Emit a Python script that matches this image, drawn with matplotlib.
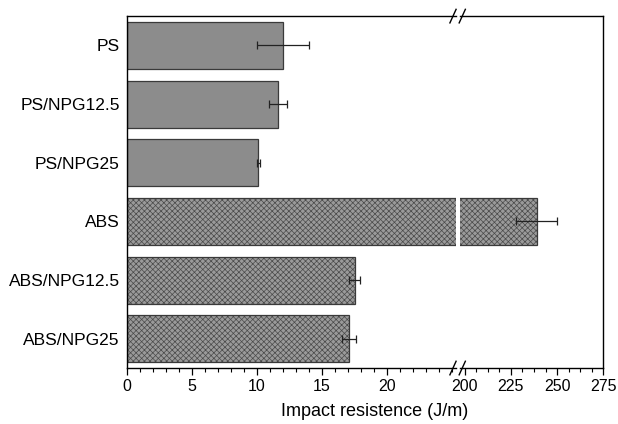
import numpy as np
import matplotlib
matplotlib.use('Agg')
import matplotlib.pyplot as plt
from matplotlib.ticker import MultipleLocator, AutoMinorLocator

plt.rcParams['font.family'] = ['Liberation Sans', 'DejaVu Sans']
plt.rcParams['hatch.linewidth'] = 0.5

# data
samples = ['PS', 'PS/NPG12.5', 'PS/NPG25', 'ABS', 'ABS/NPG12.5', 'ABS/NPG25']
impact = [12.0, 11.6, 10.1, 239.0, 17.5, 17.05]
impact_err = [2.0, 0.7, 0.12, 11.0, 0.4, 0.55]
hatched = [False, False, False, True, True, True]

ypos = np.arange(len(samples))

fig = plt.figure(figsize=(6.18, 4.24), dpi=100)
ax1 = fig.add_axes([0.205, 0.132, 0.533, 0.830])
ax2 = fig.add_axes([0.744, 0.132, 0.232, 0.830])

for ax in (ax1, ax2):
    for i in range(len(samples)):
        if hatched[i]:
            # hatch drawn in its own colour, outline on top
            ax.barh(ypos[i], impact[i], height=0.8, color='#9a9a9a',
                    edgecolor='#4a4a4a', linewidth=0, hatch='xxxxxx')
            ax.barh(ypos[i], impact[i], height=0.8, fill=False,
                    edgecolor='#3a3a3a', linewidth=0.9)
        else:
            ax.barh(ypos[i], impact[i], height=0.8, color='#8c8c8c',
                    edgecolor='#3a3a3a', linewidth=0.9)
        ax.errorbar(impact[i], ypos[i], xerr=impact_err[i], fmt='none',
                    ecolor='#222222', elinewidth=0.9, capsize=3, capthick=0.9)
    ax.set_ylim(len(samples) - 0.5, -0.5)
    ax.tick_params(axis='x', direction='out', length=5, width=0.9, labelsize=11.5, pad=3)
    ax.tick_params(axis='x', which='minor', direction='out', length=3, width=0.8)
    for s in ax.spines.values():
        s.set_linewidth(1.0)

ax1.set_xlim(0, 25.3)
ax1.xaxis.set_minor_locator(MultipleLocator(1))
ax1.set_xticks([0, 5, 10, 15, 20])
ax1.set_yticks(ypos)
ax1.set_yticklabels(samples, fontsize=12.5)
ax1.tick_params(axis='y', length=0, pad=5)
ax1.spines['right'].set_visible(False)

ax2.set_xlim(197.3, 275)
ax2.set_xticks([200, 225, 250, 275])
ax2.xaxis.set_minor_locator(AutoMinorLocator(4))
ax2.set_yticks([])
ax2.spines['left'].set_visible(False)

# break marks
for yb in (0.962, 0.132):
    for xb in (0.733, 0.748):
        fig.add_artist(plt.Line2D([xb - 0.005, xb + 0.005], [yb - 0.016, yb + 0.016],
                                  color='black', lw=1.0, transform=fig.transFigure))

fig.text(375 / 618, 1 - 411 / 424, 'Impact resistence (J/m)', ha='center', va='center', fontsize=13)

fig.savefig('out.png', dpi=100)
